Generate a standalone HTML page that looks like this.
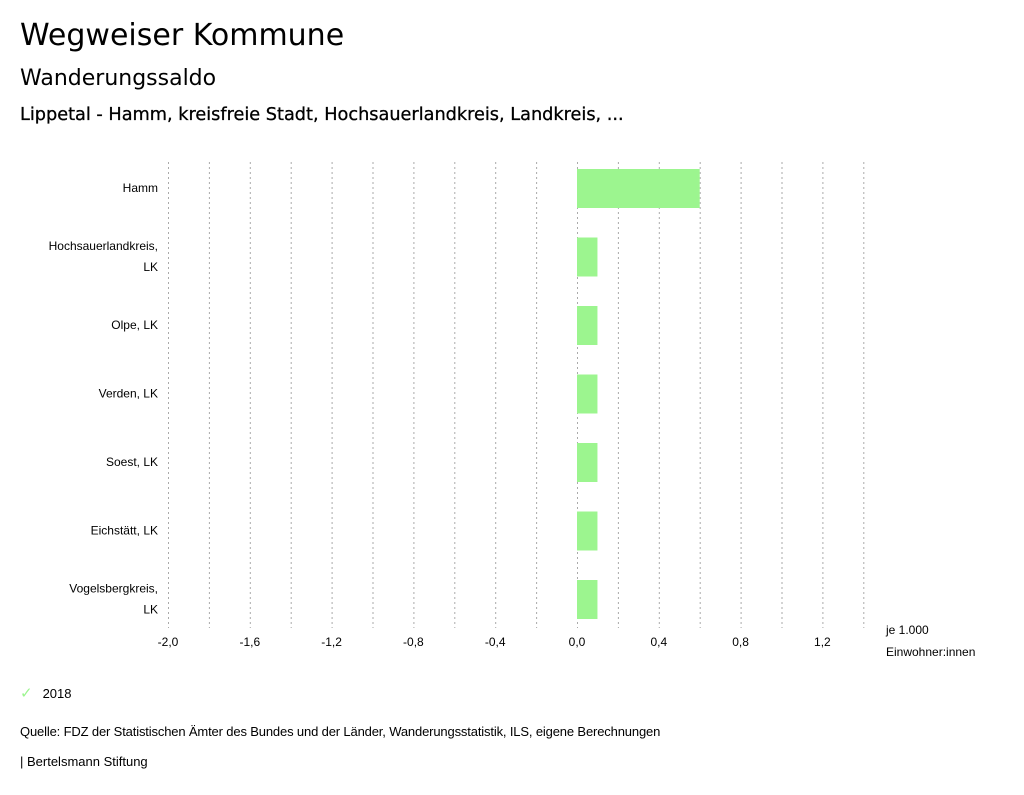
<!DOCTYPE html>
<html><head><meta charset="utf-8">
<style>
body{margin:0;width:1024px;height:795px;background:#fff;font-family:"Liberation Sans",sans-serif;color:#000;position:relative;overflow:hidden}
.t{position:absolute;white-space:nowrap}
</style></head><body>
<div class="t" style="left:20px;top:18px;font-size:30px;font-family:'DejaVu Sans',sans-serif">Wegweiser Kommune</div>
<div class="t" style="left:20px;top:66px;font-size:22px;font-family:'DejaVu Sans',sans-serif">Wanderungssaldo</div>
<div class="t" style="left:20px;top:105px;font-size:17.7px;font-family:'DejaVu Sans',sans-serif;-webkit-text-stroke:0.3px #000">Lippetal - Hamm, kreisfreie Stadt, Hochsauerlandkreis, Landkreis, ...</div>
<svg id="chart" width="1024" height="795" style="position:absolute;left:0;top:0"></svg>
<div class="t" style="left:20px;top:684px;font-size:13px"><span style="color:#9cf58f;margin-right:10px;font-size:15px">✓</span>2018</div>
<div class="t" style="left:20px;top:724px;font-size:13px;letter-spacing:-0.15px">Quelle: FDZ der Statistischen Ämter des Bundes und der Länder, Wanderungsstatistik, ILS, eigene Berechnungen</div>
<div class="t" style="left:20px;top:754px;font-size:13px">| Bertelsmann Stiftung</div>
<script>
const categories=[["Hamm"],["Hochsauerlandkreis,","LK"],["Olpe, LK"],["Verden, LK"],["Soest, LK"],["Eichstätt, LK"],["Vogelsbergkreis,","LK"]];
const values2018=[0.6,0.1,0.1,0.1,0.1,0.1,0.1];
const ticks=[-2.0,-1.6,-1.2,-0.8,-0.4,0.0,0.4,0.8,1.2];
const gridVals=[-2.0,-1.8,-1.6,-1.4,-1.2,-1.0,-0.8,-0.6,-0.4,-0.2,0.0,0.2,0.4,0.6,0.8,1.0,1.2,1.4];
const svg=document.getElementById('chart');const NS='http://www.w3.org/2000/svg';
const x=v=>577+v*204.5;
const top0=162,rowH=68.5;
function mk(tag,a){const e=document.createElementNS(NS,tag);for(const k in a)e.setAttribute(k,a[k]);svg.appendChild(e);return e;}
gridVals.forEach(v=>{
 const l=mk('line',{x1:x(v)+0.5,x2:x(v)+0.5,y1:162,y2:628,stroke:'#aaa','stroke-dasharray':'2,3','stroke-width':1});
 
 
});
ticks.forEach(v=>{
 const t=mk('text',{x:x(v),y:646,'text-anchor':'middle','font-size':12,'font-family':'Liberation Sans, sans-serif'});
 t.textContent=v.toFixed(1).replace('.',',');
 
 
});
categories.forEach((c,i)=>{
 const cy=top0+rowH*i+26;
 const r=mk('rect',{x:x(0),y:cy-19,width:x(values2018[i])-x(0),height:39,fill:'#9cf58f'});
 
 
 c.forEach((s,j)=>{
  const t=mk('text',{x:158,y:cy+4+(c.length>1?(j-0.5)*21:0),'text-anchor':'end','font-size':12,'font-family':'Liberation Sans, sans-serif'});
  t.textContent=s;
  
  
 });
});
[["je 1.000",634],["Einwohner:innen",656]].forEach(([s,y])=>{
 const t=mk('text',{x:886,y:y,'font-size':12,'font-family':'Liberation Sans, sans-serif'});
 t.textContent=s;
 
 
});
</script>
</body></html>
